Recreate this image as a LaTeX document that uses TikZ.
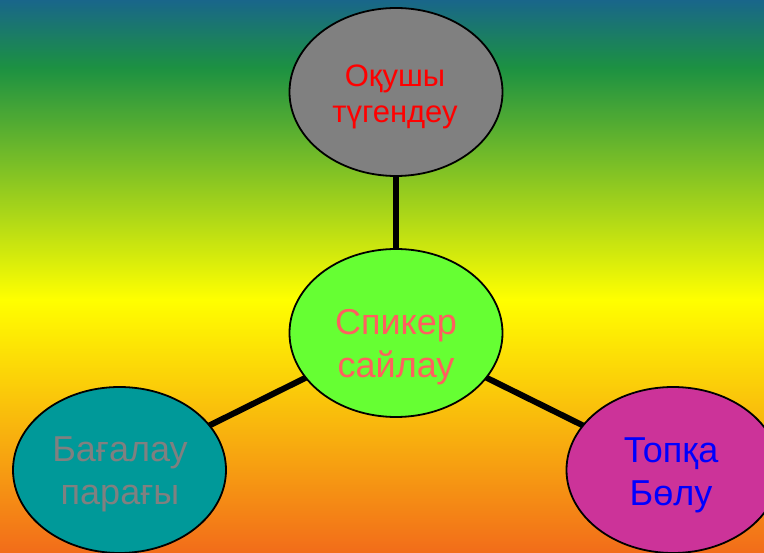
\documentclass[tikz,border=0pt]{standalone}
\usepackage{fontspec}
\setmainfont{Liberation Sans}
\usetikzlibrary{shapes.geometric}

% background and node colours
\definecolor{bgblue}{HTML}{19668A}
\definecolor{bggreen}{HTML}{1C9142}
\definecolor{bgyellow}{HTML}{FFFF00}
\definecolor{bgorange}{HTML}{F26C1A}
\definecolor{grayfill}{HTML}{808080}
\definecolor{limefill}{HTML}{66FF33}
\definecolor{tealfill}{HTML}{009999}
\definecolor{pinkfill}{HTML}{CC3399}
\definecolor{salmontext}{HTML}{FF5F5F}

% vertical background gradient (bottom to top, 25bp..75bp = full height)
\pgfdeclareverticalshading{bgshade}{100bp}{%
  color(0bp)=(bgorange); color(25bp)=(bgorange);
  color(47.9bp)=(bgyellow);
  color(68.9bp)=(bggreen);
  color(75bp)=(bgblue); color(100bp)=(bgblue)}

\pgfdeclarelayer{backdrop}
\pgfdeclarelayer{links}
\pgfsetlayers{backdrop,links,main}

\tikzset{
  bubble/.style={ellipse, draw=black, line width=1.8pt, inner sep=0pt,
                 minimum width=213pt, minimum height=168pt},
  bigtext/.style={align=center, inner sep=0pt,
                  font=\fontsize{36}{43}\selectfont},
  smalltext/.style={align=center, inner sep=0pt,
                    font=\fontsize{31}{36}\selectfont},
  link/.style={line width=6pt, draw=black}
}

\begin{document}
\begin{tikzpicture}[x=1pt, y=-1pt]
  \useasboundingbox (0,0) rectangle (764,553);
  \begin{pgfonlayer}{backdrop}
    \shade[shading=bgshade] (0,0) rectangle (764,553);
  \end{pgfonlayer}

  % ellipses
  \node[bubble, fill=grayfill] (top) at (396,92) {};
  \node[bubble, fill=limefill] (mid) at (396,333) {};
  \node[bubble, fill=tealfill, minimum height=166pt] (left) at (119.5,470) {};
  \node[bubble, fill=pinkfill, minimum height=166pt] (right) at (673,470) {};

  % labels
  \node[smalltext, text=red] (toplabel) at (395,97) {Оқушы\\түгендеу};
  \node[bigtext, text=salmontext] (midlabel) at (396,347) {Спикер\\сайлау};
  \node[bigtext, text=grayfill] (leftlabel) at (120,474) {Бағалау\\парағы};
  \node[bigtext, text=blue] (rightlabel) at (671,475) {Топқа\\Бөлу};

  % connectors, kept under the ellipses
  \begin{pgfonlayer}{links}
    \draw[link] (top.center) -- (mid.center);
    \draw[link] (mid.center) -- (left.center);
    \draw[link] (mid.center) -- (right.center);
  \end{pgfonlayer}
\end{tikzpicture}
\end{document}
